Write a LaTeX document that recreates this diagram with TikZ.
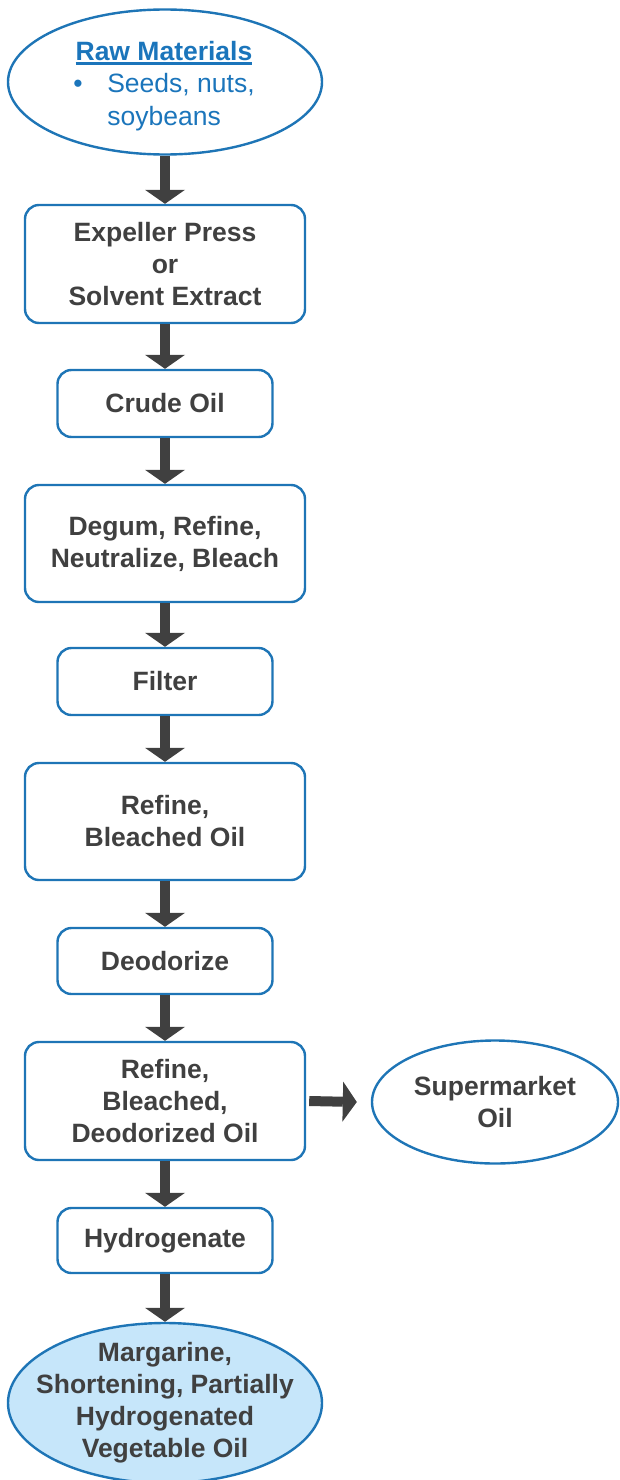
\documentclass[tikz,border=0pt]{standalone}
\usepackage{fontspec}
\setmainfont{Liberation Sans}
\usetikzlibrary{shapes.geometric,arrows.meta}
\definecolor{edgeblue}{RGB}{30,117,182}
\definecolor{rawblue}{RGB}{27,117,187}
\definecolor{txtgray}{RGB}{64,64,64}
\definecolor{arrgray}{RGB}{64,64,64}
\definecolor{fillblue}{RGB}{198,230,250}
\newcommand\myul[1]{\setbox0\hbox{#1}\rlap{\rule[-4.5pt]{\wd0}{2.2pt}}\box0}
\begin{document}
\begin{tikzpicture}[x=1pt,y=-1pt,
  stepbox/.style={draw=edgeblue,line width=2.4pt,rounded corners=14pt,fill=white,
    text=txtgray,font=\fontsize{26.5}{32}\selectfont\bfseries,align=center,inner sep=0pt},
  widebox/.style={stepbox,minimum width=280pt},
  narrowbox/.style={stepbox,minimum width=215pt},
  ellshape/.style={ellipse,draw=edgeblue,line width=2.4pt,inner sep=0pt},
  elltext/.style={text=txtgray,font=\fontsize{26.5}{32}\selectfont\bfseries,align=center,inner sep=0pt},
  flow/.style={draw=arrgray,line width=10pt,-{Triangle[width=40pt,length=14pt,line width=0pt]}}
]
\useasboundingbox (0,0) rectangle (620,1480);
% start
\node[ellshape,minimum width=314pt,minimum height=145pt] (raw) at (165,82) {};
\node[text=rawblue,inner sep=0pt,font=\fontsize{26.5}{32.5}\selectfont] (rawtext) at (164,86)
  {\begin{tabular}{@{}l@{}l@{}}
   \multicolumn{2}{@{}c@{}}{\bfseries\myul{Raw Materials}}\\
   \makebox[34pt][l]{\textbullet} & Seeds, nuts,\\
   & soybeans
   \end{tabular}};
% steps
\node[widebox,minimum height=118pt] (press) at (165,264) {Expeller Press\\or\\Solvent Extract};
\node[narrowbox,minimum height=67pt] (crude) at (165,403.5) {Crude Oil};
\node[widebox,minimum height=117pt] (degum) at (165,543.5) {Degum, Refine,\\Neutralize, Bleach};
\node[narrowbox,minimum height=67pt] (filter) at (165,681.5) {Filter};
\node[widebox,minimum height=117pt] (rbo) at (165,821.5) {Refine,\\Bleached Oil};
\node[narrowbox,minimum height=66pt] (deod) at (165,961) {Deodorize};
\node[widebox,minimum height=118pt] (rbdo) at (165,1101) {Refine,\\Bleached,\\Deodorized Oil};
\node[narrowbox,minimum height=65pt] (hydro) at (165,1240.5) {Hydrogenate};
% side ellipse
\node[ellshape,minimum width=246pt,minimum height=123pt] (super) at (495,1102) {};
\node[elltext] (supertext) at (super.center) {Supermarket\\Oil};
% product ellipse
\node[ellshape,fill=fillblue,minimum width=314pt,minimum height=160pt] (prod) at (165,1403) {};
\node[elltext] (prodtext) at (prod.center) {Margarine,\\Shortening, Partially\\Hydrogenated\\Vegetable Oil};
% arrows
\draw[flow] (raw.south) -- (press.north);
\draw[flow] (press.south) -- (crude.north);
\draw[flow] (crude.south) -- (degum.north);
\draw[flow] (degum.south) -- (filter.north);
\draw[flow] (filter.south) -- (rbo.north);
\draw[flow] (rbo.south) -- (deod.north);
\draw[flow] (deod.south) -- (rbdo.north);
\draw[flow] (rbdo.south) -- (hydro.north);
\draw[flow] (hydro.south) -- (prod.north);
\draw[flow] ([xshift=3pt]rbdo.east) -- ([xshift=-14pt]super.west);
\end{tikzpicture}
\end{document}
